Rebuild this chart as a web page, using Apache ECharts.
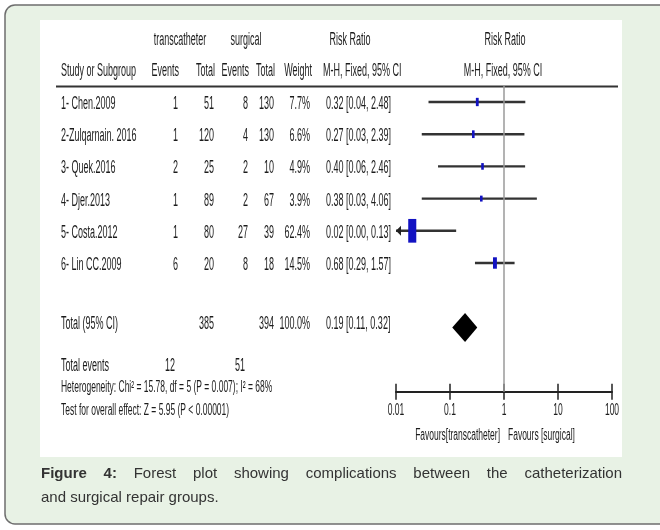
<!DOCTYPE html>
<html><head><meta charset="utf-8">
<script src="https://cdn.jsdelivr.net/npm/echarts@6/dist/echarts.min.js"></script>
<style>html,body{margin:0;padding:0;background:#fff}#c{width:660px;height:530px}</style>
</head><body><div id="c"></div>
<script>
// ---------- data ----------
const studies = ['1- Chen.2009', '2-Zulqarnain. 2016', '3- Quek.2016', '4- Djer.2013', '5- Costa.2012', '6- Lin CC.2009'];
const tcEvents = [1, 1, 2, 1, 1, 6];
const tcTotal = [51, 120, 25, 89, 80, 20];
const sgEvents = [8, 4, 2, 2, 27, 8];
const sgTotal = [130, 130, 10, 67, 39, 18];
const weights = [7.7, 6.6, 4.9, 3.9, 62.4, 14.5];
const rr = [0.32, 0.27, 0.40, 0.38, 0.02, 0.68];
const ciLow = [0.04, 0.03, 0.06, 0.03, 0.00, 0.29];
const ciHigh = [2.48, 2.39, 2.46, 4.06, 0.13, 1.57];
const totalLabel = 'Total (95% CI)';
const totalTc = [385];
const totalSg = [394];
const totalWeight = [100.0];
const totalRR = [0.19];
const totalLow = [0.11];
const totalHigh = [0.32];
const totalEvents = [12, 51];
const tickValues = [0.01, 0.1, 1, 10, 100];
const tickLabels = ['0.01', '0.1', '1', '10', '100'];
const heterogeneityText = 'Heterogeneity: Chi² = 15.78, df = 5 (P = 0.007); I² = 68%';
const overallText = 'Test for overall effect: Z = 5.95 (P < 0.00001)';
const favoursLeft = 'Favours[transcatheter]';
const favoursRight = 'Favours [surgical]';
const captionBold = 'Figure 4:';
const captionLine1 = 'Forest plot showing complications between the catheterization';
const captionLine2 = 'and surgical repair groups.';

// ---------- styling helpers ----------
const TXT = '#1c1c1c';
const FF = '"Liberation Sans", Arial, sans-serif';
function t(x, y, text, align, size, sx, extra) {
  return Object.assign({
    type: 'text', x: x, y: y, scaleX: sx || 0.5, silent: true,
    style: { text: String(text), fill: TXT, font: (size || 18) + 'px ' + FF, align: align || 'left', verticalAlign: 'middle' }
  }, extra || {});
}
const col = { study: 61, tcE: 178, tcT: 214, sgE: 248, sgT: 274, w: 310, rr: 326 };
const fmt2 = v => v.toFixed(2);
const ciText = (m, l, h) => fmt2(m) + ' [' + fmt2(l) + ', ' + fmt2(h) + ']';

const ctx = document.createElement('canvas').getContext('2d');
function mw(text, font) { ctx.font = font; return ctx.measureText(text).width; }

// caption (justified first line)
const capFontN = '15px ' + FF, capFontB = 'bold 15px ' + FF;
const capWords = captionBold.split(' ').map(s => ({ s: s, b: true })).concat(captionLine1.split(' ').map(s => ({ s: s, b: false })));
let sumW = 0; capWords.forEach(w => { w.w = mw(w.s, w.b ? capFontB : capFontN); sumW += w.w; });
const capLeft = 41, capRight = 622;
const gap = (capRight - capLeft - sumW) / (capWords.length - 1);
const captionEls = [];
let cx = capLeft;
capWords.forEach(w => {
  captionEls.push({ type: 'text', x: cx, y: 474, silent: true, style: { text: w.s, fill: '#333', font: w.b ? capFontB : capFontN, align: 'left', verticalAlign: 'middle' } });
  cx += w.w + gap;
});
captionEls.push({ type: 'text', x: capLeft, y: 498, silent: true, style: { text: captionLine2, fill: '#333', font: capFontN, align: 'left', verticalAlign: 'middle' } });

const graphics = [
  { type: 'rect', z: -20, silent: true, shape: { x: 5, y: 5, width: 700, height: 519, r: 10 }, style: { fill: '#e8f2e5', stroke: '#6e6e6e', lineWidth: 1.5 } },
  { type: 'rect', z: -19, silent: true, shape: { x: 40, y: 20, width: 582, height: 437 }, style: { fill: '#ffffff' } },
  // header rows
  t(180, 40, 'transcatheter', 'center'),
  t(246, 40, 'surgical', 'center'),
  t(350, 40, 'Risk Ratio', 'center'),
  t(505, 40, 'Risk Ratio', 'center'),
  t(col.study, 71, 'Study or Subgroup', 'left'),
  t(col.tcE + 1, 71, 'Events', 'right'),
  t(col.tcT + 1, 71, 'Total', 'right'),
  t(col.sgE + 1, 71, 'Events', 'right'),
  t(col.sgT + 1, 71, 'Total', 'right'),
  t(col.w + 2, 71, 'Weight', 'right'),
  t(col.rr - 3, 71, 'M-H, Fixed, 95% CI', 'left'),
  t(503, 71, 'M-H, Fixed, 95% CI', 'center'),
  { type: 'line', silent: true, shape: { x1: 56, y1: 86.5, x2: 618, y2: 86.5 }, style: { stroke: '#333', lineWidth: 2 } },
  // footer text
  t(col.study, 366, 'Total events', 'left'),
  t(col.tcE - 3, 366, totalEvents[0], 'right'),
  t(col.sgE - 3, 366, totalEvents[1], 'right'),
  t(col.study, 388, heterogeneityText, 'left', 16, 0.53),
  t(col.study, 411, overallText, 'left', 16, 0.53),
  t(500, 436, favoursLeft, 'right', 16, 0.53),
  t(508, 436, favoursRight, 'left', 16, 0.53)
].concat(captionEls);

const xMin = 0.01, xMax = 100;
const studyData = studies.map((s, i) => [rr[i], i + 1, ciLow[i], ciHigh[i], weights[i], i]);

const chart = echarts.init(document.getElementById('c'), null, { renderer: 'canvas' });
chart.setOption({
  animation: false,
  backgroundColor: '#ffffff',
  graphic: { elements: graphics },
  grid: { left: 396, right: 48, top: 85.9, bottom: 138.2, containLabel: false },
  xAxis: [
    { type: 'log', logBase: 10, min: xMin, max: xMax, splitNumber: 4, position: 'bottom',
      axisLine: { lineStyle: { color: '#222', width: 2 } },
      axisTick: { inside: true, length: 8, lineStyle: { color: '#222', width: 1.5 } },
      axisLabel: { show: false }, splitLine: { show: false } },
    { type: 'log', logBase: 10, min: xMin, max: xMax, splitNumber: 4, position: 'bottom', gridIndex: 0,
      axisLine: { show: false },
      axisTick: { inside: false, length: 8, lineStyle: { color: '#222', width: 1.5 } },
      axisLabel: { show: false }, splitLine: { show: false } }
  ],
  yAxis: { type: 'value', min: 0.5, max: 10, inverse: true, show: false },
  series: [
    { // table text for each study
      type: 'custom', xAxisIndex: 0, yAxisIndex: 0, silent: true, clip: false,
      dimensions: ['x', 'row', 'idx'], encode: { x: 0, y: 1 },
      data: studies.map((s, i) => [1, i + 1, i]),
      renderItem: function (params, api) {
        const i = api.value(2);
        const y = api.coord([1, api.value(1)])[1] + 2;
        return { type: 'group', children: [
          t(col.study, y, studies[i], 'left'),
          t(col.tcE, y, tcEvents[i], 'right'),
          t(col.tcT, y, tcTotal[i], 'right'),
          t(col.sgE, y, sgEvents[i], 'right'),
          t(col.sgT, y, sgTotal[i], 'right'),
          t(col.w, y, weights[i].toFixed(1) + '%', 'right'),
          t(col.rr, y, ciText(rr[i], ciLow[i], ciHigh[i]), 'left')
        ] };
      }
    },
    { // total row text
      type: 'custom', silent: true, clip: false, encode: { x: 0, y: 1 },
      data: [[1, 8]],
      renderItem: function (params, api) {
        const y = api.coord([1, api.value(1)])[1] - 3;
        return { type: 'group', children: [
          t(col.study, y, totalLabel, 'left'),
          t(col.tcT, y, totalTc[0], 'right'),
          t(col.sgT, y, totalSg[0], 'right'),
          t(col.w, y, totalWeight[0].toFixed(1) + '%', 'right'),
          t(col.rr, y, ciText(totalRR[0], totalLow[0], totalHigh[0]), 'left')
        ] };
      }
    },
    { // CI lines + weighted boxes
      type: 'custom', silent: true, clip: false,
      dimensions: ['rr', 'row', 'lo', 'hi', 'w', 'idx'], encode: { x: 0, y: 1 },
      data: studyData,
      markLine: { silent: true, symbol: 'none', label: { show: false },
        lineStyle: { color: '#9a9a9a', width: 1.5, type: 'solid' }, data: [{ xAxis: 1 }] },
      renderItem: function (params, api) {
        const row = api.value(1), lo = api.value(2), hi = api.value(3), w = api.value(4);
        const p1 = api.coord([Math.max(lo, xMin), row]);
        const p2 = api.coord([Math.min(hi, xMax), row]);
        const c = api.coord([api.value(0), row]);
        const h = 3 * Math.sqrt(w);
        const bw = Math.max(2.6, h * 0.34);
        const kids = [
          { type: 'line', shape: { x1: p1[0], y1: p1[1], x2: p2[0], y2: p2[1] }, style: { stroke: '#333', lineWidth: 2.4 } }
        ];
        if (lo < xMin) {
          kids.push({ type: 'polygon', shape: { points: [[p1[0], p1[1]], [p1[0] + 5, p1[1] - 5], [p1[0] + 5, p1[1] + 5]] }, style: { fill: '#222' } });
        }
        kids.push({ type: 'rect', shape: { x: c[0] - bw / 2, y: c[1] - h / 2, width: bw, height: h }, style: { fill: '#1212c2' } });
        return { type: 'group', children: kids };
      }
    },
    { // pooled diamond
      type: 'custom', silent: true, clip: false,
      dimensions: ['rr', 'row', 'lo', 'hi'], encode: { x: 0, y: 1 },
      data: [[totalRR[0], 8, totalLow[0], totalHigh[0]]],
      renderItem: function (params, api) {
        const row = api.value(1);
        const c = api.coord([api.value(0), row]);
        const l = api.coord([api.value(2), row]);
        const r = api.coord([api.value(3), row]);
        const hh = 14.5;
        return { type: 'polygon', shape: { points: [[l[0], c[1]], [c[0], c[1] - hh], [r[0], c[1]], [c[0], c[1] + hh]] }, style: { fill: '#000' } };
      }
    },
    { // tick labels
      type: 'custom', silent: true, clip: false, encode: { x: 0, y: 1 },
      data: tickValues.map((v, i) => [v, 10, i]),
      renderItem: function (params, api) {
        const p = api.coord([api.value(0), api.value(1)]);
        return t(p[0], p[1] + 19, tickLabels[api.value(2)], 'center', 17, 0.5);
      }
    }
  ]
});
</script>
</body></html>
